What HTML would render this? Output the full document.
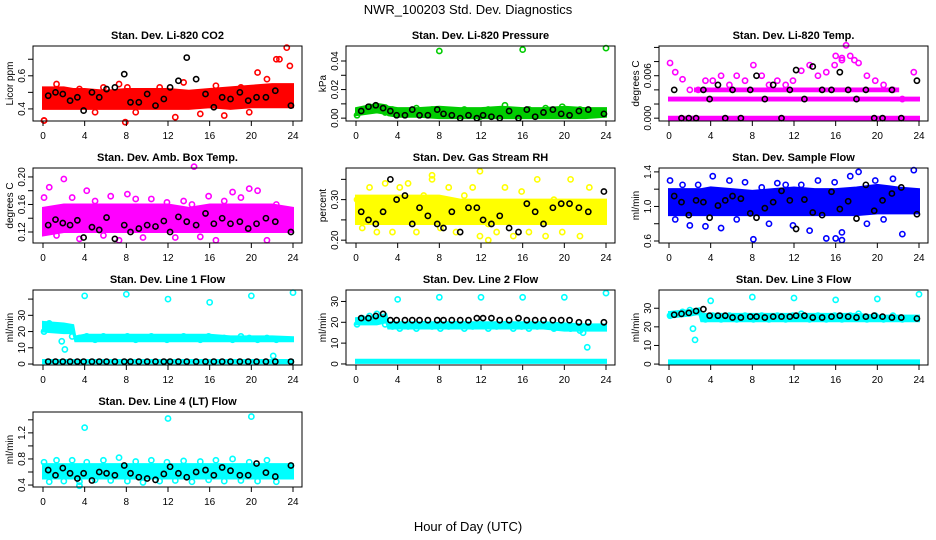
<!DOCTYPE html>
<html><head><meta charset="utf-8"><style>
html,body{margin:0;padding:0;background:#fff;}
svg{display:block;font-family:"Liberation Sans",sans-serif;}
</style></head><body>
<svg id="chart" width="936" height="540" xmlns="http://www.w3.org/2000/svg">
<rect width="936" height="540" fill="#fff"/>
<text x="468" y="14" text-anchor="middle" font-size="13">NWR_100203 Std. Dev. Diagnostics</text>
<text x="468" y="531" text-anchor="middle" font-size="13">Hour of Day (UTC)</text>
</svg>
<script>
// shared hours
const bandHours = [0,2,2.9,3.1,4,6,8,10,12,14,16,18,20,22,24];
const outHours = [0.1,0.6,1.3,2.0,2.8,3.5,4.2,5.0,5.8,6.5,7.3,8.1,8.9,9.6,10.4,11.2,11.9,12.7,13.5,14.3,15.1,15.9,16.6,17.4,18.2,19.0,19.8,20.6,21.5,22.4];
const blackHours = [0.5,1.2,1.9,2.6,3.3,3.9,4.7,5.4,6.1,6.9,7.8,8.4,9.2,10.0,10.8,11.6,12.2,13.0,13.8,14.7,15.6,16.4,17.2,18.0,18.9,19.7,20.5,21.4,22.3,23.8];
const xTicks = [0,4,8,12,16,20,24];

// P1 CO2
const co2Low = [0.40,0.40,0.40,0.40,0.40,0.40,0.40,0.40,0.40,0.40,0.41,0.40,0.41,0.41,0.41];
const co2High = [0.53,0.53,0.52,0.52,0.52,0.51,0.52,0.52,0.52,0.51,0.52,0.53,0.54,0.55,0.55];
const co2Out = [0.33,0.50,0.55,0.48,0.45,0.52,0.50,0.38,0.53,0.47,0.55,0.53,0.38,0.44,0.50,0.53,0.42,0.35,0.56,0.49,0.37,0.44,0.54,0.36,0.51,0.53,0.38,0.62,0.58,0.70];
const co2SpikeHours = [23.4,22.7,23.7,0.1,7.9];
const co2Spikes = [0.77,0.70,0.66,0.33,0.32];
const co2Black = [0.48,0.50,0.49,0.45,0.47,0.39,0.50,0.47,0.52,0.53,0.61,0.44,0.44,0.49,0.42,0.46,0.53,0.57,0.71,0.58,0.49,0.41,0.47,0.46,0.50,0.45,0.47,0.47,0.51,0.42];
// P2 pressure
const presLow = [0.002,0.004,0.003,0.002,0.001,0.001,0.000,0.000,0.000,0.000,0.000,0.000,0.000,0.000,0.001];
const presHigh = [0.007,0.010,0.009,0.008,0.007,0.007,0.008,0.007,0.007,0.008,0.007,0.007,0.008,0.007,0.007];
const presOut = [0.002,0.006,0.008,0.007,0.004,0.006,0.005,0.003,0.007,0.004,0.006,0.002,0.005,0.003,0.006,0.004,0.001,0.006,0.003,0.009,0.005,0.002,0.006,0.004,0.007,0.003,0.008,0.005,0.006,0.003];
const presSpikeHours = [8,16,24];
const presSpikes = [0.047,0.048,0.049];
const presBlack = [0.005,0.008,0.009,0.007,0.005,0.002,0.002,0.006,0.002,0.002,0.006,0.003,0.002,0.000,0.002,0.000,0.002,0.001,0.000,0.005,0.000,0.006,0.001,0.004,0.006,0.003,0.002,0.005,0.006,0.003];
// P3 temp
const tempBandHours = [0,24];
const tempLow0 = [-0.0002,-0.0002];
const tempHigh0 = [0.0002,0.0002];
const tempLow1 = [0.0025,0.0025];
const tempHigh1 = [0.0029,0.0029];
const tempBand2Hours = [2.5,22];
const tempLow2 = [0.0038,0.0038];
const tempHigh2 = [0.0042,0.0042];
const tempOut = [0.0078,0.0065,0.0055,0.004,0.004,0.0053,0.0053,0.006,0.0047,0.006,0.0053,0.0075,0.006,0.0047,0.0053,0.0047,0.0053,0.0067,0.0075,0.006,0.0065,0.0075,0.0085,0.0088,0.0078,0.006,0.0053,0.0047,0.004,0.0027];
const tempSpikeHours = [17.0,16.0,16.6,17.8,23.5];
const tempSpikes = [0.0103,0.0088,0.0082,0.0082,0.0065];
const tempBlack = [0.004,0,0,0,0.004,0.0027,0.0047,0,0.004,0,0.004,0.006,0.0027,0.0047,0,0.004,0.0068,0.0027,0.0073,0.004,0.004,0.0065,0.004,0.0027,0.004,0,0,0.004,0,0.0053];
// P4 amb box
const ambLow = [0.115,0.12,0.12,0.12,0.12,0.12,0.12,0.12,0.12,0.12,0.12,0.12,0.12,0.12,0.12];
const ambHigh = [0.155,0.16,0.16,0.16,0.16,0.16,0.16,0.16,0.16,0.155,0.16,0.16,0.16,0.16,0.155];
const ambOut = [0.17,0.185,0.115,0.197,0.17,0.11,0.18,0.165,0.115,0.172,0.108,0.175,0.168,0.112,0.168,0.153,0.163,0.112,0.165,0.16,0.113,0.172,0.108,0.165,0.178,0.17,0.183,0.18,0.108,0.16];
const ambSpikeHours = [14.5];
const ambSpikes = [0.215];
const ambBlack = [0.13,0.138,0.133,0.13,0.137,0.112,0.127,0.123,0.141,0.11,0.13,0.12,0.125,0.13,0.128,0.136,0.12,0.142,0.135,0.13,0.147,0.132,0.14,0.132,0.135,0.125,0.132,0.14,0.135,0.12];
// P5 RH
const rhLow = [0.24,0.24,0.24,0.24,0.24,0.24,0.24,0.24,0.24,0.24,0.24,0.24,0.24,0.24,0.24];
const rhHigh = [0.31,0.31,0.31,0.31,0.31,0.31,0.31,0.30,0.30,0.30,0.30,0.30,0.30,0.30,0.30];
const rhOut = [0.30,0.23,0.33,0.22,0.34,0.22,0.33,0.34,0.22,0.31,0.35,0.23,0.33,0.22,0.31,0.33,0.21,0.24,0.22,0.33,0.21,0.32,0.22,0.35,0.21,0.30,0.22,0.35,0.21,0.33];
const rhSpikeHours = [7.3,11.9,12.7];
const rhSpikes = [0.36,0.37,0.20];
const rhBlack = [0.27,0.25,0.24,0.27,0.35,0.30,0.31,0.24,0.28,0.26,0.24,0.23,0.27,0.22,0.28,0.28,0.25,0.24,0.26,0.23,0.22,0.29,0.27,0.24,0.28,0.29,0.29,0.28,0.27,0.32];
// P6 sample flow
const flowLow = [0.9,0.9,0.9,0.9,0.9,0.9,0.9,0.9,0.9,0.9,0.9,0.9,0.92,0.92,0.92];
const flowHigh = [1.2,1.2,1.2,1.2,1.22,1.2,1.18,1.2,1.22,1.2,1.2,1.22,1.25,1.22,1.2];
const flowOut = [1.3,0.85,1.25,0.78,1.25,0.77,1.35,0.75,1.3,0.85,1.28,0.62,1.22,0.8,1.27,1.25,0.78,1.25,0.72,1.3,0.63,1.28,0.7,1.35,1.4,0.8,1.3,0.85,1.32,0.68];
const flowSpikeHours = [23.5,16.0,16.6];
const flowSpikes = [1.42,0.63,0.61];
const flowBlack = [1.12,1.05,0.9,1.07,1.05,0.87,1.01,1.07,1.12,1.09,0.92,0.87,0.98,1.05,1.18,1.07,0.74,1.08,0.93,0.9,1.17,0.97,1.06,0.86,1.25,0.95,1.07,1.15,1.22,0.91];
// P7 line 1
const l1Low = [20,19,19,14,14,14,14,14,14,14,14,14,14,14,14];
const l1High = [26,25,24,17,18,18,18,18,18,18,18,17,17,17,16.5];
const l1BaseHours = [0,24];
const l1BaseLow = [0.5,0.5];
const l1BaseHigh = [2.5,2.5];
const l1Out = [20,25,22,21,17,16,17,15,17,16,16,17,15,16,17,16,15,16,17,16,15,17,16,16,15,17,16,15,16,15];
const l1SpikeHours = [4,8,12,16,20,24,1.8,2.1,22.1];
const l1Spikes = [42,43,40,38,42,44,14,9,5];
const l1Black = [1.5,1.5,1.5,1.5,1.5,1.5,1.5,1.5,1.5,1.5,1.5,1.5,1.5,1.5,1.5,1.5,1.5,1.5,1.5,1.5,1.5,1.5,1.5,1.5,1.5,1.5,1.5,1.5,1.5,1.5];
// P8 line 2
const l2Low = [19,19,20,17,17,17,17,17,17,17,17,17,16,16,16];
const l2High = [22,23,24,20,20,20,20,20,20,20,20,20,19.5,19,19];
const l2BaseLow = [0.5,0.5];
const l2BaseHigh = [2,2];
const l2Out = [19,22,23,24,19,18,17,18,17,19,18,17,18,19,17,18,19,17,18,19,17,18,17,18,19,17,18,17,16,18];
const l2SpikeHours = [4,8,12,16,20,24,22.2,21.8];
const l2Spikes = [31,32,32,32,32,34,8,15];
const l2Black = [22,22,23,24,21,21,21,21,21,21,21,21,21,21,21,22,22,22,21,21,22,21,21,21,21,21,21,20,20,20];
// P9 line 3
const l3Low = [25,26,27,23,23,23,23,23,23,23,23,23,23,23,23];
const l3High = [28,29,30,27,27,27,27,27,27,27,27,27,26,26,26];
const l3BaseLow = [0.3,0.3];
const l3BaseHigh = [2,2];
const l3Out = [26,27,28,29,28,24,26,24,26,24,26,24,26,24,26,24,26,27,24,26,24,26,24,26,27,24,26,24,26,24];
const l3SpikeHours = [2.3,2.5,4,8,12,16,20,24];
const l3Spikes = [19,13,34,36,35.5,34.5,35,37.5];
const l3Black = [26.5,27,27.5,28.5,29.5,26,26,26,25,25,25.5,25.5,25,25.5,25.5,25.5,26,26,25,25,25.5,26,25.5,25,25.5,26,25.5,25,25,24.5];
// P10 line 4
const l4Low = [0.5,0.5,0.5,0.5,0.5,0.5,0.5,0.5,0.5,0.5,0.5,0.5,0.5,0.5,0.5];
const l4High = [0.72,0.72,0.72,0.72,0.72,0.72,0.72,0.72,0.72,0.72,0.72,0.72,0.72,0.72,0.72];
const l4Out = [0.75,0.45,0.78,0.46,0.78,0.45,0.75,0.48,0.78,0.47,0.82,0.46,0.76,0.44,0.78,0.46,0.75,0.47,0.77,0.45,0.76,0.48,0.78,0.46,0.8,0.47,0.75,0.46,0.78,0.45];
const l4SpikeHours = [4,12,20,3.5];
const l4Spikes = [1.28,1.42,1.45,0.39];
const l4Black = [0.63,0.55,0.66,0.58,0.5,0.58,0.47,0.6,0.58,0.55,0.7,0.58,0.52,0.5,0.48,0.57,0.68,0.58,0.52,0.6,0.63,0.55,0.67,0.62,0.55,0.55,0.73,0.59,0.53,0.7];

const NS = "http://www.w3.org/2000/svg";
const svg = document.getElementById('chart');
function mk(tag, attrs, parent){ const e=document.createElementNS(NS,tag); for(const k in attrs) e.setAttribute(k,attrs[k]); (parent||svg).appendChild(e); return e; }

const panels = [
 {r:0,c:0,title:"Stan. Dev. Li-820 CO2",yl:"Licor ppm",ymin:0.327,ymax:0.78,ticks:[0.4,0.5,0.6,0.7],labels:["0.4","","0.6",""],col:"#ff0000",
  bands:[[bandHours,co2Low,co2High]],out:co2Out,sh:co2SpikeHours,sv:co2Spikes,blk:co2Black},
 {r:0,c:1,title:"Stan. Dev. Li-820 Pressure",yl:"kPa",ymin:-0.002,ymax:0.0505,ticks:[0,0.01,0.02,0.03,0.04],labels:["0.00","","0.02","","0.04"],col:"#00cc00",
  bands:[[bandHours,presLow,presHigh]],out:presOut,sh:presSpikeHours,sv:presSpikes,blk:presBlack},
 {r:0,c:2,title:"Stan. Dev. Li-820 Temp.",yl:"degrees C",ymin:-0.0004,ymax:0.0102,ticks:[0,0.002,0.004,0.006,0.008,0.010],labels:["0.000","","","0.006","",""],col:"#ff00ff",
  bands:[[tempBandHours,tempLow0,tempHigh0],[tempBandHours,tempLow1,tempHigh1],[tempBand2Hours,tempLow2,tempHigh2]],out:tempOut,sh:tempSpikeHours,sv:tempSpikes,blk:tempBlack},
 {r:1,c:0,title:"Stan. Dev. Amb. Box Temp.",yl:"degrees C",ymin:0.104,ymax:0.213,ticks:[0.12,0.14,0.16,0.18,0.20],labels:["0.12","","0.16","","0.20"],col:"#ff00ff",
  bands:[[bandHours,ambLow,ambHigh]],out:ambOut,sh:ambSpikeHours,sv:ambSpikes,blk:ambBlack},
 {r:1,c:1,title:"Stan. Dev. Gas Stream RH",yl:"percent",ymin:0.193,ymax:0.378,ticks:[0.20,0.25,0.30,0.35],labels:["0.20","","0.30",""],col:"#ffff00",
  bands:[[bandHours,rhLow,rhHigh]],out:rhOut,sh:rhSpikeHours,sv:rhSpikes,blk:rhBlack},
 {r:1,c:2,title:"Stan. Dev. Sample Flow",yl:"ml/min",ymin:0.577,ymax:1.445,ticks:[0.6,0.8,1.0,1.2,1.4],labels:["0.6","","1.0","","1.4"],col:"#0000ff",
  bands:[[bandHours,flowLow,flowHigh]],out:flowOut,sh:flowSpikeHours,sv:flowSpikes,blk:flowBlack},
 {r:2,c:0,title:"Stan. Dev. Line 1 Flow",yl:"ml/min",ymin:-0.6,ymax:45.6,ticks:[0,10,20,30,40],labels:["0","10","20","30",""],col:"#00ffff",
  bands:[[bandHours,l1Low,l1High],[l1BaseHours,l1BaseLow,l1BaseHigh]],out:l1Out,sh:l1SpikeHours,sv:l1Spikes,blk:l1Black},
 {r:2,c:1,title:"Stan. Dev. Line 2 Flow",yl:"ml/min",ymin:-0.5,ymax:35.5,ticks:[0,10,20,30],labels:["0","10","20","30"],col:"#00ffff",
  bands:[[bandHours,l2Low,l2High],[l1BaseHours,l2BaseLow,l2BaseHigh]],out:l2Out,sh:l2SpikeHours,sv:l2Spikes,blk:l2Black},
 {r:2,c:2,title:"Stan. Dev. Line 3 Flow",yl:"ml/min",ymin:-0.5,ymax:39.8,ticks:[0,10,20,30],labels:["0","10","20","30"],col:"#00ffff",
  bands:[[bandHours,l3Low,l3High],[l1BaseHours,l3BaseLow,l3BaseHigh]],out:l3Out,sh:l3SpikeHours,sv:l3Spikes,blk:l3Black},
 {r:3,c:0,title:"Stan. Dev. Line 4 (LT) Flow",yl:"ml/min",ymin:0.37,ymax:1.52,ticks:[0.4,0.6,0.8,1.0,1.2,1.4],labels:["0.4","","0.8","","1.2",""],col:"#00ffff",
  bands:[[bandHours,l4Low,l4High]],out:l4Out,sh:l4SpikeHours,sv:l4Spikes,blk:l4Black}
];

panels.forEach((p,i)=>{
  const x0 = 33 + p.c*313, y0 = 46 + p.r*122, w = 269, h = 75;
  const xs = hr => x0 + 10 + hr*250/24;
  const ys = v => y0 + h - (v - p.ymin)/(p.ymax - p.ymin)*h;
  const g = mk('g',{});
  
  
  const t = mk('text',{x:x0+w/2,y:y0-7,'text-anchor':'middle','font-size':11,'font-weight':'bold'},g);
  t.textContent = p.title;
  
  
  const yt = mk('text',{x:0,y:0,'text-anchor':'middle','font-size':10,transform:`translate(${x0-20},${y0+h/2}) rotate(-90)`},g);
  yt.textContent = p.yl;
  
  
  // bands
  p.bands.forEach(b=>{
    const [hs,lo,hi]=b; let pts=[];
    for(let k=0;k<hs.length;k++) pts.push(xs(hs[k])+','+ys(hi[k]));
    for(let k=hs.length-1;k>=0;k--) pts.push(xs(hs[k])+','+ys(lo[k]));
    const pg = mk('polygon',{points:pts.join(' '),fill:p.col,stroke:p.col,'stroke-width':2},g);
    
    
  });
  const dot=(hr,v,col,name)=>{
    const c = mk('circle',{cx:xs(hr),cy:ys(v),r:2.6,fill:'none',stroke:col,'stroke-width':1.6},g);
    
    
  };
  p.out.forEach((v,k)=>dot(outHours[k],v,p.col,'colored-point'));
  p.sh.forEach((hh,k)=>dot(hh,p.sv[k],p.col,'outlier-point'));
  p.blk.forEach((v,k)=>dot(blackHours[k],v,'#000','black-point'));
  // box
  const bx = mk('rect',{x:x0,y:y0,width:w,height:h,fill:'none',stroke:'#000','stroke-width':1},g);
  
  
  // x axis
  xTicks.forEach(tk=>{
    mk('line',{x1:xs(tk),x2:xs(tk),y1:y0+h,y2:y0+h+5,stroke:'#000'},g);
    const tl = mk('text',{x:xs(tk),y:y0+h+18,'text-anchor':'middle','font-size':10},g);
    tl.textContent = tk;
    
    
  });
  // y axis
  const yTop = ys(p.ticks[p.ticks.length-1]), yBot = ys(p.ticks[0]);
  mk('line',{x1:x0,x2:x0,y1:yTop,y2:yBot,stroke:'#000'},g);
  p.ticks.forEach((tk,k)=>{
    mk('line',{x1:x0-5,x2:x0,y1:ys(tk),y2:ys(tk),stroke:'#000'},g);
    if(p.labels[k]){
      const tl = mk('text',{x:0,y:0,'text-anchor':'middle','font-size':10,transform:`translate(${x0-8},${ys(tk)}) rotate(-90)`},g);
      tl.textContent = p.labels[k];
      
      
    }
  });
});
</script>
</body></html>
